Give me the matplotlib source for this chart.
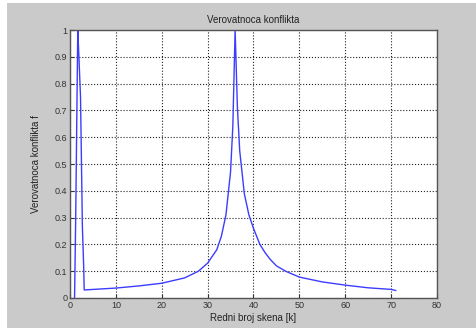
import matplotlib.pyplot as plt
from matplotlib.patches import Rectangle

plt.rcParams['font.family'] = ['Liberation Sans', 'DejaVu Sans']

# redni broj skena k i verovatnoca konflikta f (ocitano sa slike)
k = [1, 1.25, 1.7, 1.9, 2.3, 2.7, 3.0, 3.1, 10, 15, 20, 25, 28, 30, 32, 33, 34, 35, 35.5, 36,
     36.5, 37, 38, 39, 40, 41.4, 42.5, 43.6, 45, 47, 50, 55, 60, 65, 70, 71]
f = [0, 0.3, 1.0, 0.92, 0.75, 0.27, 0.11, 0.03, 0.037, 0.045, 0.055, 0.075, 0.1, 0.13, 0.18, 0.23, 0.31, 0.47, 0.64, 1.0,
     0.71, 0.55, 0.39, 0.31, 0.26, 0.2, 0.17, 0.145, 0.12, 0.1, 0.078, 0.06, 0.048, 0.038, 0.032, 0.028]

xticks = list(range(0, 81, 10))
yticks = [i / 10 for i in range(11)]
ytick_labels = ['0'] + [f'{v:.1f}' for v in yticks[1:-1]] + ['1']

fig = plt.figure(figsize=(4.76, 3.28), dpi=100, facecolor='white')
fig.patches.append(Rectangle((7 / 476, 0), 1, 1 - 3 / 328, transform=fig.transFigure,
                             facecolor='#cacaca', edgecolor='none', zorder=-10))

ax = fig.add_axes([0.147, 0.0915, 0.771, 0.817])
ax.set_zorder(1)
ax.plot(k, f, color='#3c3cff', linewidth=1)

ax.set_xlim(0, 80)
ax.set_ylim(0, 1)
ax.set_xticks(xticks)
ax.set_yticks(yticks)
ax.set_yticklabels(ytick_labels)
ax.tick_params(direction='in', length=3, labelsize=6.5, colors='#333333', pad=2)
ax.grid(True, linestyle=':', color='#222222', linewidth=0.8)
for s in ax.spines.values():
    s.set_color('#555555')
    s.set_linewidth(1)

ax.set_title('Verovatnoca konflikta', fontsize=7, color='#222222', pad=5)
ax.set_xlabel('Redni broj skena [k]', fontsize=7, color='#222222', labelpad=2)
ax.set_ylabel('Verovatnoca konflikta f', fontsize=7, color='#222222', labelpad=10)

fig.savefig('out.png', dpi=100, facecolor=fig.get_facecolor())
